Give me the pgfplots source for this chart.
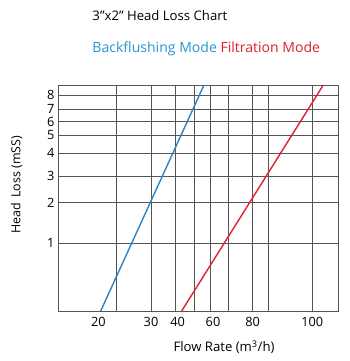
\documentclass[border=0pt]{standalone}
\usepackage{fontspec}
\setmainfont{Open Sans}
\usepackage{pgfplots}
\pgfplotsset{compat=1.18}
\definecolor{bfblue}{RGB}{42,132,200}
\definecolor{bftext}{RGB}{40,150,212}
\definecolor{ftred}{RGB}{222,32,48}
\definecolor{gridc}{RGB}{85,85,85}
\begin{document}
\begin{tikzpicture}
\begin{axis}[
  scale only axis, width=280bp, height=226bp,
  xmin=0, xmax=280, ymin=0, ymax=226,
  clip=false,
  axis line style={gridc, line width=0.9pt},
  major tick length=0pt,
  xtick={40.3,93,119.7,155,194.7,254.3},
  xticklabels={20,30,40,60,80,100},
  extra x ticks={58.7,93,117.7,136,152.7,170.3,194.3,210.3,254.3},
  extra x tick labels={},
  extra x tick style={grid=major, major grid style={gridc, line width=0.9pt}},
  ytick={67.7,108.3,135,157.7,176,189.3,202,216},
  yticklabels={1,2,3,4,5,6,7,8},
  ymajorgrids, major grid style={gridc, line width=0.9pt},
  /pgf/number format/assume math mode=true,
  tick label style={font=\fontsize{12.8}{15}\selectfont},
  xticklabel style={yshift=-3bp},
  xlabel={Flow Rate (m\textsuperscript{3}/h)},
  ylabel={Head\, Loss (mSS)},
  xlabel style={font=\fontsize{13.2}{15}\selectfont, at={(axis description cs:0.593,-0.159)}, anchor=center},
  ylabel style={font=\fontsize{12.5}{15}\selectfont, at={(axis description cs:-0.1475,0.559)}, anchor=center, rotate=0},
]
\path (axis cs:-58,-50) rectangle (axis cs:292,311);
\addplot[bfblue, line width=1.4pt] coordinates {(42.7,0) (146,226)};
\addplot[ftred, line width=1.4pt] coordinates {(123.7,0) (265.3,226)};
\node[anchor=base west, inner sep=0pt, font=\fontsize{13.2}{16}\selectfont] at (axis cs:34.3,290.3) {3"x2” Head Loss Chart};
\node[anchor=base west, inner sep=0pt, font=\fontsize{14.1}{16}\selectfont] at (axis cs:34.3,258.7) {\textcolor{bftext}{Backflushing Mode} \textcolor{ftred}{Filtration Mode}};
\end{axis}
\end{tikzpicture}
\end{document}
